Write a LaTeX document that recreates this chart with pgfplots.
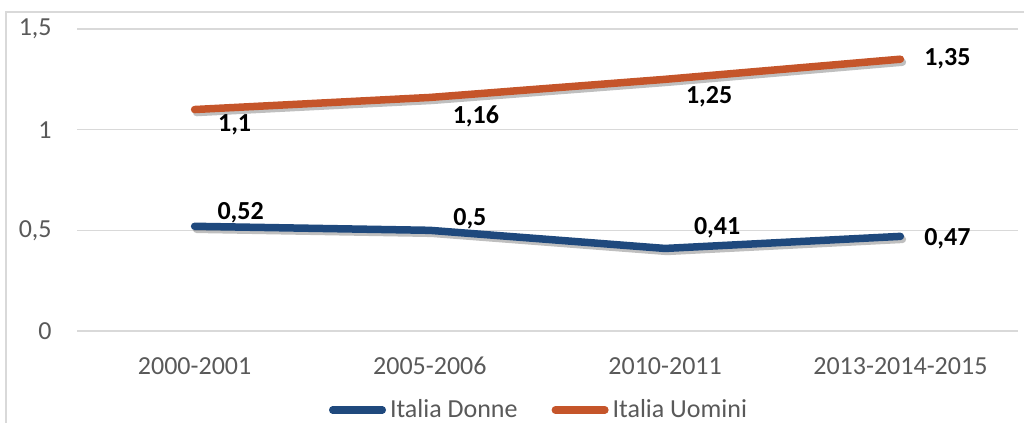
\documentclass[border=0pt]{standalone}
\usepackage{pgfplots}
\pgfplotsset{compat=1.18}
\usepackage{fontspec}
\setmainfont{Carlito}
\definecolor{dblue}{HTML}{1F497D}
\definecolor{dorange}{HTML}{C5552A}
\definecolor{tickgray}{HTML}{595959}
\definecolor{gridgray}{HTML}{D9D9D9}
\pgfplotstableread{
x donne uomini
0 0.52 1.10
1 0.50 1.16
2 0.41 1.25
3 0.47 1.35
}\datatable
\begin{document}
\fontsize{13pt}{15.6pt}\selectfont
\begin{tikzpicture}
\path[use as bounding box] (0,0) rectangle (512pt,211.5pt);
\draw[gridgray, line width=0.75pt] (3pt,-5pt) -- (3pt,205.5pt) -- (520pt,205.5pt);
\begin{axis}[
  at={(38.5pt,46pt)}, anchor=south west,
  scale only axis, width=470.5pt, height=151pt,
  xmin=-0.5, xmax=3.5, ymin=0, ymax=1.5,
  clip=false,
  axis line style={draw=none},
  major tick length=0pt,
  ymajorgrids,
  grid style={gridgray, line width=0.75pt},
  ytick={0,0.5,1,1.5},
  yticklabels={0,{0,5},1,{1,5}},
  xtick={0,1,2,3},
  xticklabels={2000-2001,2005-2006,2010-2011,2013-2014-2015},
  /pgf/number format/assume math mode=true,
  ticklabel style={font=\fontsize{13pt}{15.6pt}\selectfont, text=tickgray},
  yticklabel style={inner sep=0pt, xshift=-12.5pt},
  xticklabel style={inner sep=0pt, yshift=-13pt},
  legend style={at={(0.491,-0.2616)}, anchor=center, draw=none, fill=none,
    legend columns=2, font=\fontsize{13pt}{15.6pt}\selectfont, text=tickgray,
    nodes={inner sep=1pt},
    /tikz/every odd column/.append style={column sep=1pt},
    /tikz/every even column/.append style={column sep=16pt}},
  legend image code/.code={\draw[line width=3.75pt, line cap=round, #1] (0pt,0pt) -- (24.75pt,0pt);},
]
\addplot[forget plot, black, opacity=0.25, line width=3.75pt, line cap=round, line join=round, xshift=1pt, yshift=-1.5pt] table[x=x,y=donne] {\datatable};
\addplot[forget plot, black, opacity=0.25, line width=3.75pt, line cap=round, line join=round, xshift=1pt, yshift=-1.5pt] table[x=x,y=uomini] {\datatable};
\addplot[dblue, line width=3.75pt, line cap=round, line join=round] table[x=x,y=donne] {\datatable};
\addlegendentry{Italia Donne}
\addplot[dorange, line width=3.75pt, line cap=round, line join=round] table[x=x,y=uomini] {\datatable};
\addlegendentry{Italia Uomini}
\begin{scope}[every node/.style={font=\fontsize{13pt}{15.6pt}\selectfont\bfseries, text=black, inner sep=0pt}]
\node[xshift=20pt, yshift=-7.5pt] at (axis cs:0,1.10) {1,1};
\node[xshift=23pt, yshift=-9.25pt] at (axis cs:1,1.16) {1,16};
\node[xshift=22pt, yshift=-8.5pt] at (axis cs:2,1.25) {1,25};
\node[xshift=23.5pt, yshift=0pt] at (axis cs:3,1.35) {1,35};
\node[xshift=23pt, yshift=7pt] at (axis cs:0,0.52) {0,52};
\node[xshift=20pt, yshift=6pt] at (axis cs:1,0.50) {0,5};
\node[xshift=26pt, yshift=10.5pt] at (axis cs:2,0.41) {0,41};
\node[xshift=23.5pt, yshift=-1pt] at (axis cs:3,0.47) {0,47};
\end{scope}
\end{axis}
\end{tikzpicture}
\end{document}
